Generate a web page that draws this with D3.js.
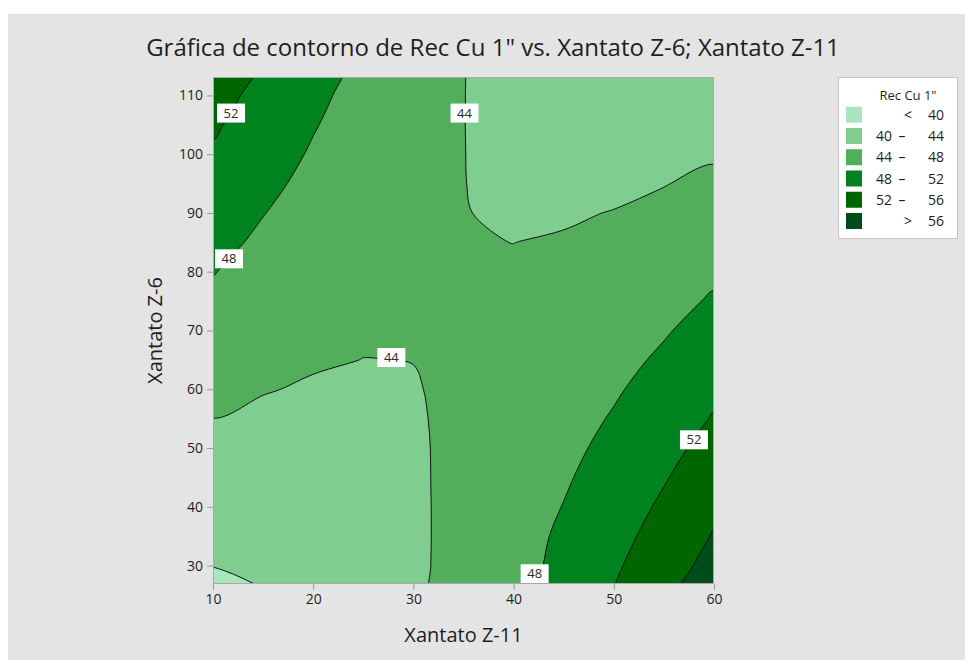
<!DOCTYPE html>
<html>
<head>
<meta charset="utf-8">
<script src="https://cdn.jsdelivr.net/npm/d3@7"></script>
<style>
body { margin: 0; background: #fff; }
svg { display: block; font-family: "Open Sans", sans-serif; }
</style>
</head>
<body>
<svg id="chart" width="965" height="660"></svg>
<script>
// Grid of Rec Cu 1" values
// columns = Xantato Z-11, rows = Xantato Z-6 (bottom row first)
var gridX = [10, 15, 20, 25, 30, 35, 40, 45, 50, 55, 60];
var gridY = [25, 30, 35, 40, 45, 50, 55, 60, 65, 70, 75, 80, 85, 90, 95, 100, 105, 110, 115];
var recCu = [
    39.28, 39.88, 40.76, 41.94, 43.40, 45.16, 47.10, 49.30, 52.17, 55.08, 58.29,
    40.04, 40.46, 41.17, 42.16, 43.45, 45.03, 46.80, 48.85, 51.50, 54.23, 57.26,
    40.82, 41.05, 41.58, 42.40, 43.50, 44.90, 46.59, 48.57, 50.83, 53.39, 56.24,
    41.60, 41.65, 42.00, 42.64, 43.57, 44.78, 46.29, 48.09, 50.18, 52.56, 55.22,
    42.38, 42.26, 42.43, 42.89, 43.64, 44.68, 46.00, 47.62, 49.53, 51.73, 54.22,
    43.18, 42.88, 42.87, 43.15, 43.71, 44.57, 45.72, 47.16, 48.89, 50.91, 53.22,
    43.98, 43.50, 43.31, 43.41, 43.80, 44.48, 45.45, 46.71, 48.26, 50.10, 52.23,
    44.79, 44.13, 43.76, 43.68, 43.90, 44.40, 45.19, 46.27, 47.64, 49.30, 51.25,
    45.61, 44.77, 44.23, 43.98, 44.02, 44.32, 44.93, 45.83, 47.02, 48.50, 50.28,
    46.44, 45.42, 44.69, 44.26, 44.11, 44.25, 44.68, 45.40, 46.42, 47.72, 49.31,
    47.28, 46.08, 45.17, 44.55, 44.23, 44.19, 44.44, 44.98, 45.82, 46.94, 48.35,
    48.12, 46.74, 45.66, 44.86, 44.35, 44.14, 44.21, 44.57, 45.23, 46.17, 47.40,
    48.97, 47.41, 46.15, 45.17, 44.49, 44.09, 43.99, 44.17, 44.64, 45.41, 46.46,
    49.83, 48.09, 46.65, 45.49, 44.63, 44.05, 43.77, 43.77, 44.07, 44.65, 45.53,
    50.70, 48.78, 47.16, 45.82, 44.78, 44.03, 43.56, 43.39, 43.50, 43.91, 44.60,
    51.57, 49.48, 47.68, 46.16, 44.94, 44.03, 43.36, 43.01, 42.94, 43.17, 43.69,
    52.46, 50.18, 48.20, 46.51, 45.10, 44.03, 43.17, 42.63, 42.39, 42.44, 42.78,
    53.35, 50.90, 48.73, 46.86, 45.28, 44.04, 42.98, 42.27, 41.85, 41.72, 41.87,
    54.25, 51.62, 49.27, 47.22, 45.46, 44.05, 42.81, 41.92, 41.31, 41.00, 40.98
];

var levels = [40, 44, 48, 52, 56];
var bandNames = [['<', '40'], ['40', '44'], ['44', '48'], ['48', '52'], ['52', '56'], ['>', '56']];
var bandColors = ['#a8e6be', '#80cd90', '#52ae5a', '#00821f', '#006600', '#004c1b'];

var xTicks = [10, 20, 30, 40, 50, 60];
var yTicks = [30, 40, 50, 60, 70, 80, 90, 100, 110];

// contour labels (value, Xantato Z-11, Xantato Z-6)
var lineLabels = [
    { v: 52, x: 11.8, y: 107.0 },
    { v: 48, x: 11.6, y: 82.2 },
    { v: 44, x: 35.1, y: 107.0 },
    { v: 44, x: 27.8, y: 65.4 },
    { v: 52, x: 58.0, y: 51.4 },
    { v: 48, x: 42.1, y: 28.6 }
];

var font = '"Open Sans", sans-serif';
var ink = '#1e1e1e';
var svg = d3.select('#chart');

// figure background
svg.append('rect')
    .attr('x', 8).attr('y', 14)
    .attr('width', 957).attr('height', 646)
    .attr('fill', '#e4e4e4');

var pL = 213, pR = 714, pT = 77, pB = 584;

var x = d3.scaleLinear().domain([10, 60]).range([pL, pR]);
var y = d3.scaleLinear().domain([26.86, 113.14]).range([pB, pT]);

// grid index -> data units
var gx = d3.scaleLinear().domain([0, gridX.length - 1]).range([gridX[0], gridX[gridX.length - 1]]);
var gy = d3.scaleLinear().domain([0, gridY.length - 1]).range([gridY[0], gridY[gridY.length - 1]]);

var contours = d3.contours()
    .size([gridX.length, gridY.length])
    .thresholds(levels)(recCu);

// rounded outlines instead of straight marching-squares segments
var ringLine = d3.line().curve(d3.curveCatmullRomClosed.alpha(0.5));

function contourPath(c) {
    var s = '';
    c.coordinates.forEach(function(poly) {
        poly.forEach(function(ring) {
            var pts = ring.slice(0, ring.length - 1)
                .map(p => [x(gx(p[0] - 0.5)), y(gy(p[1] - 0.5))]);
            s += ringLine(pts);
        });
    });
    return s;
}

svg.append('defs').append('clipPath').attr('id', 'plotClip')
    .append('rect')
    .attr('x', pL).attr('y', pT)
    .attr('width', pR - pL).attr('height', pB - pT);

var plot = svg.append('g').attr('clip-path', 'url(#plotClip)');

plot.append('rect')
    .attr('x', pL).attr('y', pT)
    .attr('width', pR - pL).attr('height', pB - pT)
    .attr('fill', bandColors[0]);

plot.selectAll('path.band')
    .data(contours)
    .join('path')
    .attr('class', 'band')
    .attr('d', contourPath)
    .attr('fill', (d, i) => bandColors[i + 1])
    .attr('fill-rule', 'evenodd');

plot.selectAll('path.iso')
    .data(contours)
    .join('path')
    .attr('class', 'iso')
    .attr('d', contourPath)
    .attr('fill', 'none')
    .attr('stroke', '#111')
    .attr('stroke-width', 1);

// contour value labels
var lab = plot.selectAll('g.lab')
    .data(lineLabels)
    .join('g')
    .attr('class', 'lab')
    .attr('transform', d => `translate(${x(d.x)},${y(d.y)})`);

lab.append('rect')
    .attr('x', -14).attr('y', -9.5)
    .attr('width', 28).attr('height', 19)
    .attr('fill', '#fff');

lab.append('text')
    .attr('text-anchor', 'middle')
    .attr('dy', '0.36em')
    .attr('font-size', 13)
    .attr('fill', '#2a2a2a')
    .text(d => d.v);

// frame
svg.append('rect')
    .attr('x', pL + 0.5).attr('y', pT + 0.5)
    .attr('width', pR - pL - 1).attr('height', pB - pT - 1)
    .attr('fill', 'none')
    .attr('stroke', '#a8a8a8');

// axes
function styleAxis(g) {
    g.select('.domain').remove();
    g.selectAll('.tick line').attr('stroke', '#999');
    g.selectAll('.tick text').attr('fill', ink);
    g.attr('font-size', 14).attr('font-family', font);
}

svg.append('g')
    .attr('transform', `translate(0,${pB})`)
    .call(d3.axisBottom(x).tickValues(xTicks).tickSize(6).tickPadding(4))
    .call(styleAxis);

svg.append('g')
    .attr('transform', `translate(${pL},0)`)
    .call(d3.axisLeft(y).tickValues(yTicks).tickSize(6).tickPadding(4))
    .call(styleAxis);

// titles
svg.append('text')
    .attr('x', 493).attr('y', 56)
    .attr('text-anchor', 'middle')
    .attr('font-size', 24)
    .attr('fill', ink)
    .text('Gráfica de contorno de Rec Cu 1" vs. Xantato Z-6; Xantato Z-11');

svg.append('text')
    .attr('x', (pL + pR) / 2).attr('y', 642)
    .attr('text-anchor', 'middle')
    .attr('font-size', 20)
    .attr('fill', ink)
    .text('Xantato Z-11');

svg.append('text')
    .attr('transform', `translate(162,${(pT + pB) / 2}) rotate(-90)`)
    .attr('text-anchor', 'middle')
    .attr('font-size', 20)
    .attr('fill', ink)
    .text('Xantato Z-6');

// legend
var legend = svg.append('g');
legend.append('rect')
    .attr('x', 838.5).attr('y', 77.5)
    .attr('width', 119).attr('height', 161)
    .attr('fill', '#fff')
    .attr('stroke', '#c4c4c4');

legend.append('text')
    .attr('x', 908).attr('y', 100)
    .attr('text-anchor', 'middle')
    .attr('font-size', 13)
    .attr('fill', ink)
    .text('Rec Cu 1"');

var rows = legend.selectAll('g.row')
    .data(bandNames)
    .join('g')
    .attr('class', 'row')
    .attr('transform', (d, i) => `translate(0,${114.7 + i * 21.26})`);

rows.append('rect')
    .attr('x', 846).attr('y', -8)
    .attr('width', 16).attr('height', 16)
    .attr('fill', (d, i) => bandColors[i]);

rows.each(function(d) {
    var g = d3.select(this);
    function put(xp, anchor, s) {
        g.append('text').attr('x', xp).attr('text-anchor', anchor)
            .attr('font-size', 14).attr('fill', ink).attr('dy', '0.36em').text(s);
    }
    if (d[0] === '<' || d[0] === '>') {
        put(908, 'middle', d[0]);
        put(944, 'end', d[1]);
    } else {
        put(892, 'end', d[0]);
        put(902, 'middle', '–');
        put(944, 'end', d[1]);
    }
});
</script>
</body>
</html>
